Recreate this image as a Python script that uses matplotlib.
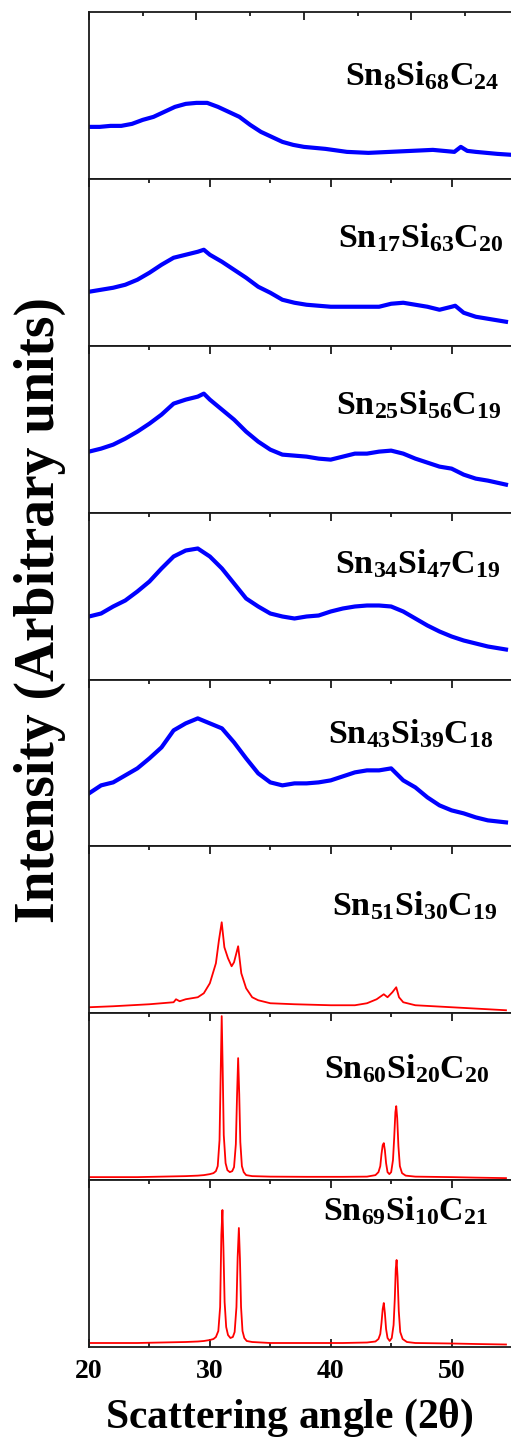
import numpy as np
import matplotlib
matplotlib.use("Agg")
import matplotlib.pyplot as plt

plt.rcParams['font.family'] = 'Liberation Serif'
plt.rcParams['font.weight'] = 'bold'
plt.rcParams['mathtext.fontset'] = 'custom'
plt.rcParams['mathtext.rm'] = 'Liberation Serif:bold'
plt.rcParams['mathtext.bf'] = 'Liberation Serif:bold'
plt.rcParams['mathtext.it'] = 'Liberation Serif:bold:italic'

# sample names, top to bottom
names = [r'$\mathrm{Sn_{8}Si_{68}C_{24}}$', r'$\mathrm{Sn_{17}Si_{63}C_{20}}$',
         r'$\mathrm{Sn_{25}Si_{56}C_{19}}$', r'$\mathrm{Sn_{34}Si_{47}C_{19}}$',
         r'$\mathrm{Sn_{43}Si_{39}C_{18}}$', r'$\mathrm{Sn_{51}Si_{30}C_{19}}$',
         r'$\mathrm{Sn_{60}Si_{20}C_{20}}$', r'$\mathrm{Sn_{69}Si_{10}C_{21}}$']

# intensity (arbitrary units)
tt1 = [20, 21, 22, 23, 24, 25, 26, 27, 28, 29, 30, 31, 32, 33, 34, 35, 36, 37, 38, 39, 40,
       42, 44, 46, 48, 50, 52, 53, 54, 54.6, 55.2, 56, 57, 58, 59.4]
I1 = [52, 52, 53, 53, 55, 59, 62, 67, 72, 75, 76, 76, 72, 67, 62, 54, 47, 42, 37, 34, 32,
      30, 27, 26, 27, 28, 29, 28, 27, 32, 28, 27, 26, 25, 24]

tt2 = [20, 21, 22, 23, 24, 25, 26, 27, 28, 29, 29.5, 30, 31, 32, 33, 34, 35, 36, 37, 38, 40,
       42, 44, 45, 46, 48, 49, 50, 50.3, 51, 52, 53, 54.5]
I2 = [54, 56, 58, 61, 66, 73, 81, 88, 91, 94, 96, 91, 84, 76, 68, 59, 53, 46, 43, 41, 39,
      39, 39, 42, 43, 39, 36, 39, 40, 33, 29, 27, 24]

tt3 = [20, 21, 22, 23, 24, 25, 26, 27, 28, 29, 29.5, 30, 31, 32, 33, 34, 35, 36, 37, 38, 39,
       40, 41, 42, 43, 44, 45, 46, 47, 48, 49, 50, 51, 52, 53, 54.5]
I3 = [61, 64, 68, 74, 81, 89, 98, 109, 113, 116, 119, 113, 103, 93, 81, 71, 63, 58, 57, 56, 54,
      53, 56, 59, 59, 61, 62, 59, 54, 50, 46, 44, 38, 34, 32, 28]

tt4 = [20, 21, 22, 23, 24, 25, 26, 27, 28, 29, 30, 31, 32, 33, 34, 35, 36, 37, 38, 39, 40,
       41, 42, 43, 44, 45, 46, 47, 48, 49, 50, 51, 52, 53, 54.5]
I4 = [63, 66, 73, 79, 88, 98, 111, 123, 129, 131, 123, 111, 96, 81, 73, 66, 63, 61, 63, 64, 68,
      71, 73, 74, 74, 73, 68, 61, 54, 48, 43, 39, 36, 33, 30]

tt5 = [20, 21, 22, 23, 24, 25, 26, 27, 28, 29, 30, 31, 32, 33, 34, 35, 36, 37, 38, 39, 40,
       41, 42, 43, 44, 45, 46, 47, 48, 49, 50, 51, 52, 53, 54.5]
I5 = [53, 61, 64, 71, 78, 88, 99, 116, 123, 128, 123, 118, 104, 88, 73, 64, 61, 63, 63, 64, 66,
      70, 74, 76, 76, 78, 66, 59, 49, 41, 36, 33, 29, 26, 24]

tt6 = [20, 22, 25, 27, 27.2, 27.5, 28, 29, 29.5, 30, 30.5, 30.75, 30.98, 31.2, 31.5, 31.8, 32.0,
       32.34, 32.6, 33, 33.5, 34, 35, 37, 40, 42, 43, 43.8, 44.39, 44.7, 45.1, 45.42, 45.65, 46,
       47, 50, 54.5]
I6 = [6, 7, 9, 11, 14, 12, 14, 16, 20, 30, 50, 73, 91, 66, 55, 47, 51,
      67, 40, 25, 16, 13, 10, 9, 8, 8, 10, 14, 19, 16, 21, 26, 16, 11,
      8, 6, 3]

tt7 = [20, 22, 24, 26, 28, 29, 29.5, 30, 30.3, 30.5, 30.65, 30.8, 30.9, 30.98, 31.06, 31.15,
       31.3, 31.45, 31.65, 31.85, 32.0, 32.15, 32.25, 32.34, 32.43, 32.52, 32.65, 32.8, 33.0,
       33.5, 35, 38, 41, 43, 43.7, 43.95, 44.1, 44.2, 44.3, 44.39, 44.48, 44.58, 44.7, 44.85,
       45.0, 45.15, 45.25, 45.35, 45.42, 45.5, 45.6, 45.72, 45.9, 46.2, 47, 50, 52, 54.5]
I7 = [3, 3, 3, 3.5, 4, 4.5, 5, 6, 7, 9, 14, 40, 110, 164, 112, 45,
      17, 10, 8, 9, 13, 36, 85, 122, 86, 38, 14, 8, 5,
      4, 3.5, 3.3, 3.3, 3.5, 5, 8, 14, 26, 35, 37, 30, 17, 8, 6,
      8, 20, 42, 68, 74, 62, 34, 14, 7, 4.5, 3.5, 3, 2.5, 2]

tt8 = [20, 22, 24, 26, 28, 29, 29.5, 30, 30.3, 30.5, 30.7, 30.85, 30.95, 31.04, 31.12, 31.22,
       31.35, 31.5, 31.7, 31.9, 32.05, 32.2, 32.3, 32.4, 32.49, 32.58, 32.7, 32.85, 33.05,
       33.5, 35, 38, 41, 43, 43.7, 43.95, 44.1, 44.2, 44.3, 44.39, 44.48, 44.58, 44.7, 44.88,
       45.05, 45.2, 45.3, 45.38, 45.45, 45.53, 45.63, 45.75, 45.95, 46.3, 47, 50, 52, 54.5]
I8 = [4, 4, 4, 4.5, 5, 5.5, 6, 7, 8, 10, 16, 40, 112, 137, 100, 45,
      20, 12, 9, 10, 15, 40, 90, 119, 88, 40, 16, 9, 6,
      5, 4, 4, 4, 4.5, 5.5, 8, 13, 24, 38, 44, 34, 18, 9, 6,
      9, 22, 48, 78, 87, 70, 36, 15, 8, 5, 4, 3.5, 3, 2.5]

thetas = [tt1, tt2, tt3, tt4, tt5, tt6, tt7, tt8]
intens = [I1, I2, I3, I4, I5, I6, I7, I8]
colors = ['#0000ff'] * 5 + ['#ff0000'] * 3

W, H = 511, 1449
fig = plt.figure(figsize=(W / 100, H / 100), dpi=100)

top_px, bot_px, left_px = 12, 1347, 89
ph = (bot_px - top_px) / 8
label_x = [0.969, 0.98, 0.976, 0.974, 0.957, 0.967, 0.946, 0.943]
label_y = [0.56, 0.59, 0.59, 0.64, 0.62, 0.59, 0.61, 0.76]

for i in range(8):
    y0 = top_px + i * ph
    ax = fig.add_axes([left_px / W, 1 - (y0 + ph) / H, 1 - left_px / W + 0.002, ph / H])
    lw = 3.0 if i < 5 else 1.3
    ax.plot(thetas[i], intens[i], color=colors[i], lw=lw)
    ax.set_ylim(0, ph)
    if i == 0:
        ax.set_xlim(20, 20 + (W - left_px) / 10.72)
    else:
        ax.set_xlim(20, 20 + (W - left_px) / 12.24)
    ax.set_xticks([20, 30, 40, 50])
    ax.set_xticks([25, 35, 45, 55], minor=True)
    ax.set_yticks([])
    ax.spines['right'].set_visible(False)
    for s in ['left', 'top', 'bottom']:
        ax.spines[s].set_linewidth(1.3)
        ax.spines[s].set_color('#1a1a1a')
    last = (i == 7)
    ax.tick_params(axis='x', which='both', direction='in', top=True, bottom=last,
                   labelbottom=last, width=1.3, color='#1a1a1a')
    ax.tick_params(axis='x', which='major', length=5.5, pad=9, labelsize=20)
    ax.tick_params(axis='x', which='minor', length=3)
    ax.text(label_x[i], label_y[i], names[i], transform=ax.transAxes, ha='right',
            va='baseline', fontsize=24.5)

fig.text(289 / W, 1 - 1418 / H, r'Scattering angle (2$\mathregular{\theta}$)', ha='center',
         va='center', fontsize=30, fontweight='bold')
fig.text(40 / W, 1 - 610 / H, 'Intensity (Arbitrary units)', rotation=90, ha='center',
         va='center', fontsize=40, fontweight='bold')

fig.savefig('out.png', dpi=100)
